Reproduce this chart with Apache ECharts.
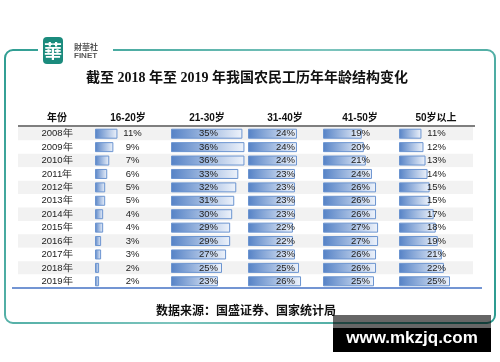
<!DOCTYPE html>
<html><head><meta charset="utf-8">
<script src="https://cdn.jsdelivr.net/npm/echarts@6/dist/echarts.min.js"></script>
<style>html,body{margin:0;padding:0;background:#fff}#c{width:500px;height:362px}</style>
</head><body><div id="c"></div>
<script>
const years = ['2008年','2009年','2010年','2011年','2012年','2013年','2014年','2015年','2016年','2017年','2018年','2019年'];
const groups = ['16-20岁','21-30岁','31-40岁','41-50岁','50岁以上'];
const age16_20 = [11,9,7,6,5,5,4,4,3,3,2,2];
const age21_30 = [35,36,36,33,32,31,30,29,29,27,25,23];
const age31_40 = [24,24,24,23,23,23,23,22,22,23,25,26];
const age41_50 = [19,20,21,24,26,26,26,27,27,26,26,25];
const age50up = [11,12,13,14,15,15,17,18,19,21,22,25];
const seriesData = [age16_20, age21_30, age31_40, age41_50, age50up];
const title = '截至 2018 年至 2019 年我国农民工历年年龄结构变化';
const source = '数据来源：国盛证券、国家统计局';
const headerYear = '年份';

const colStarts = [95, 171, 248, 323, 399];
const gridTop = 127, gridH = 161;
const axisMax = 40, colW = 81.6;

const grids = [], xAxes = [], yAxes = [], series = [];
colStarts.forEach((left, i) => {
  grids.push({left: left, top: gridTop, width: colW, height: gridH});
  xAxes.push({type: 'value', gridIndex: i, min: 0, max: axisMax, show: false});
  yAxes.push({type: 'category', gridIndex: i, data: years, inverse: true, show: false});
  series.push({
    type: 'bar', xAxisIndex: i, yAxisIndex: i, data: seriesData[i], barWidth: 10,
    itemStyle: {
      color: {type: 'linear', x: 0, y: 0, x2: 1, y2: 0,
        colorStops: [{offset: 0, color: '#5582c6'}, {offset: 1, color: '#eef3fb'}]},
      borderColor: '#6b94d0', borderWidth: 1
    },
    label: {show: true, position: [37.5, 5], align: 'center', verticalAlign: 'middle',
      formatter: '{c}%', fontSize: 9.5, color: '#222', fontFamily: 'Liberation Sans, Arial, sans-serif'},
    silent: true, animation: false
  });
});
// background grid with stripes and year labels
grids.push({left: 18, top: gridTop, width: 455, height: gridH});
xAxes.push({type: 'value', gridIndex: 5, min: 0, max: 1, show: false});
yAxes.push({type: 'category', gridIndex: 5, data: years, inverse: true,
  axisLine: {show: false}, axisTick: {show: false}, splitLine: {show: false},
  splitArea: {show: true, areaStyle: {color: ['#f2f2f2', '#ffffff']}},
  axisLabel: {inside: true, margin: 39, align: 'center', fontSize: 9.5, color: '#222',
    fontFamily: 'Liberation Sans, Arial, sans-serif'}, z: 0});
series.push({type: 'bar', xAxisIndex: 5, yAxisIndex: 5, data: [], silent: true});

const headerCenters = [57, 128, 207, 285, 360, 436];
const headerTexts = [headerYear].concat(groups);
const graphics = [
  {type: 'rect', z: 0, shape: {x: 5, y: 50, width: 490, height: 273, r: 8},
   style: {fill: 'none', lineWidth: 2,
     stroke: {type: 'linear', x: 0, y: 0, x2: 1, y2: 1,
       colorStops: [{offset: 0, color: '#2f9d92'}, {offset: 0.5, color: '#7cc4bd'}, {offset: 1, color: '#2a9a8f'}]}}},
  {type: 'rect', z: 1, shape: {x: 38, y: 44, width: 75, height: 12}, style: {fill: '#fff'}},
  {type: 'rect', z: 2, shape: {x: 43, y: 37, width: 20, height: 27, r: 4}, style: {fill: '#1b8b7d'}},
  {type: 'text', z: 3, x: 53, y: 51, style: {text: '華', fill: '#fff', fontSize: 18, fontWeight: 'bold',
    fontFamily: 'Noto Sans CJK TC', align: 'center', verticalAlign: 'middle'}},
  {type: 'text', z: 3, x: 74, y: 47, style: {text: '財華社', fill: '#555', fontSize: 8, fontWeight: 'bold',
    fontFamily: 'Noto Sans CJK TC', verticalAlign: 'middle'}},
  {type: 'text', z: 3, x: 74, y: 56, style: {text: 'FINET', fill: '#555', fontSize: 8, fontWeight: 'bold',
    fontFamily: 'Liberation Sans, Arial', verticalAlign: 'middle'}},
  {type: 'text', z: 3, x: 247, y: 78, style: {text: title, fill: '#111', fontSize: 14, fontWeight: 'bold',
    fontFamily: 'Liberation Serif, Noto Sans CJK SC', align: 'center', verticalAlign: 'middle'}},
  {type: 'line', z: 3, shape: {x1: 18, y1: 126, x2: 475, y2: 126}, style: {stroke: '#555', lineWidth: 1.5}},
  {type: 'line', z: 3, shape: {x1: 12, y1: 288, x2: 482, y2: 288}, style: {stroke: '#4472c4', lineWidth: 1.5}},
  {type: 'text', z: 3, x: 246, y: 310, style: {text: source, fill: '#111', fontSize: 12, fontWeight: 'bold',
    fontFamily: 'Noto Sans CJK SC', align: 'center', verticalAlign: 'middle'}},
  {type: 'rect', z: 5, shape: {x: 333, y: 315, width: 158, height: 13}, style: {fill: 'rgba(0,0,0,0.6)'}},
  {type: 'rect', z: 5, shape: {x: 333, y: 328, width: 158, height: 24}, style: {fill: '#000'}},
  {type: 'text', z: 6, x: 412, y: 338, style: {text: 'www.mkzjq.com', fill: '#fff', fontSize: 17, fontWeight: 'bold',
    fontFamily: 'Liberation Sans, Arial', align: 'center', verticalAlign: 'middle'}}
];
headerTexts.forEach((t, i) => {
  graphics.push({type: 'text', z: 3, x: headerCenters[i], y: 118, style: {text: t, fill: '#111',
    fontSize: 10, fontWeight: 'bold', fontFamily: 'Liberation Sans, Noto Sans CJK SC',
    align: 'center', verticalAlign: 'middle'}});
});

const chart = echarts.init(document.getElementById('c'), null, {renderer: 'canvas'});
chart.setOption({
  animation: false,
  backgroundColor: '#fff',
  grid: grids, xAxis: xAxes, yAxis: yAxes, series: series,
  graphic: graphics
});
</script></body></html>
